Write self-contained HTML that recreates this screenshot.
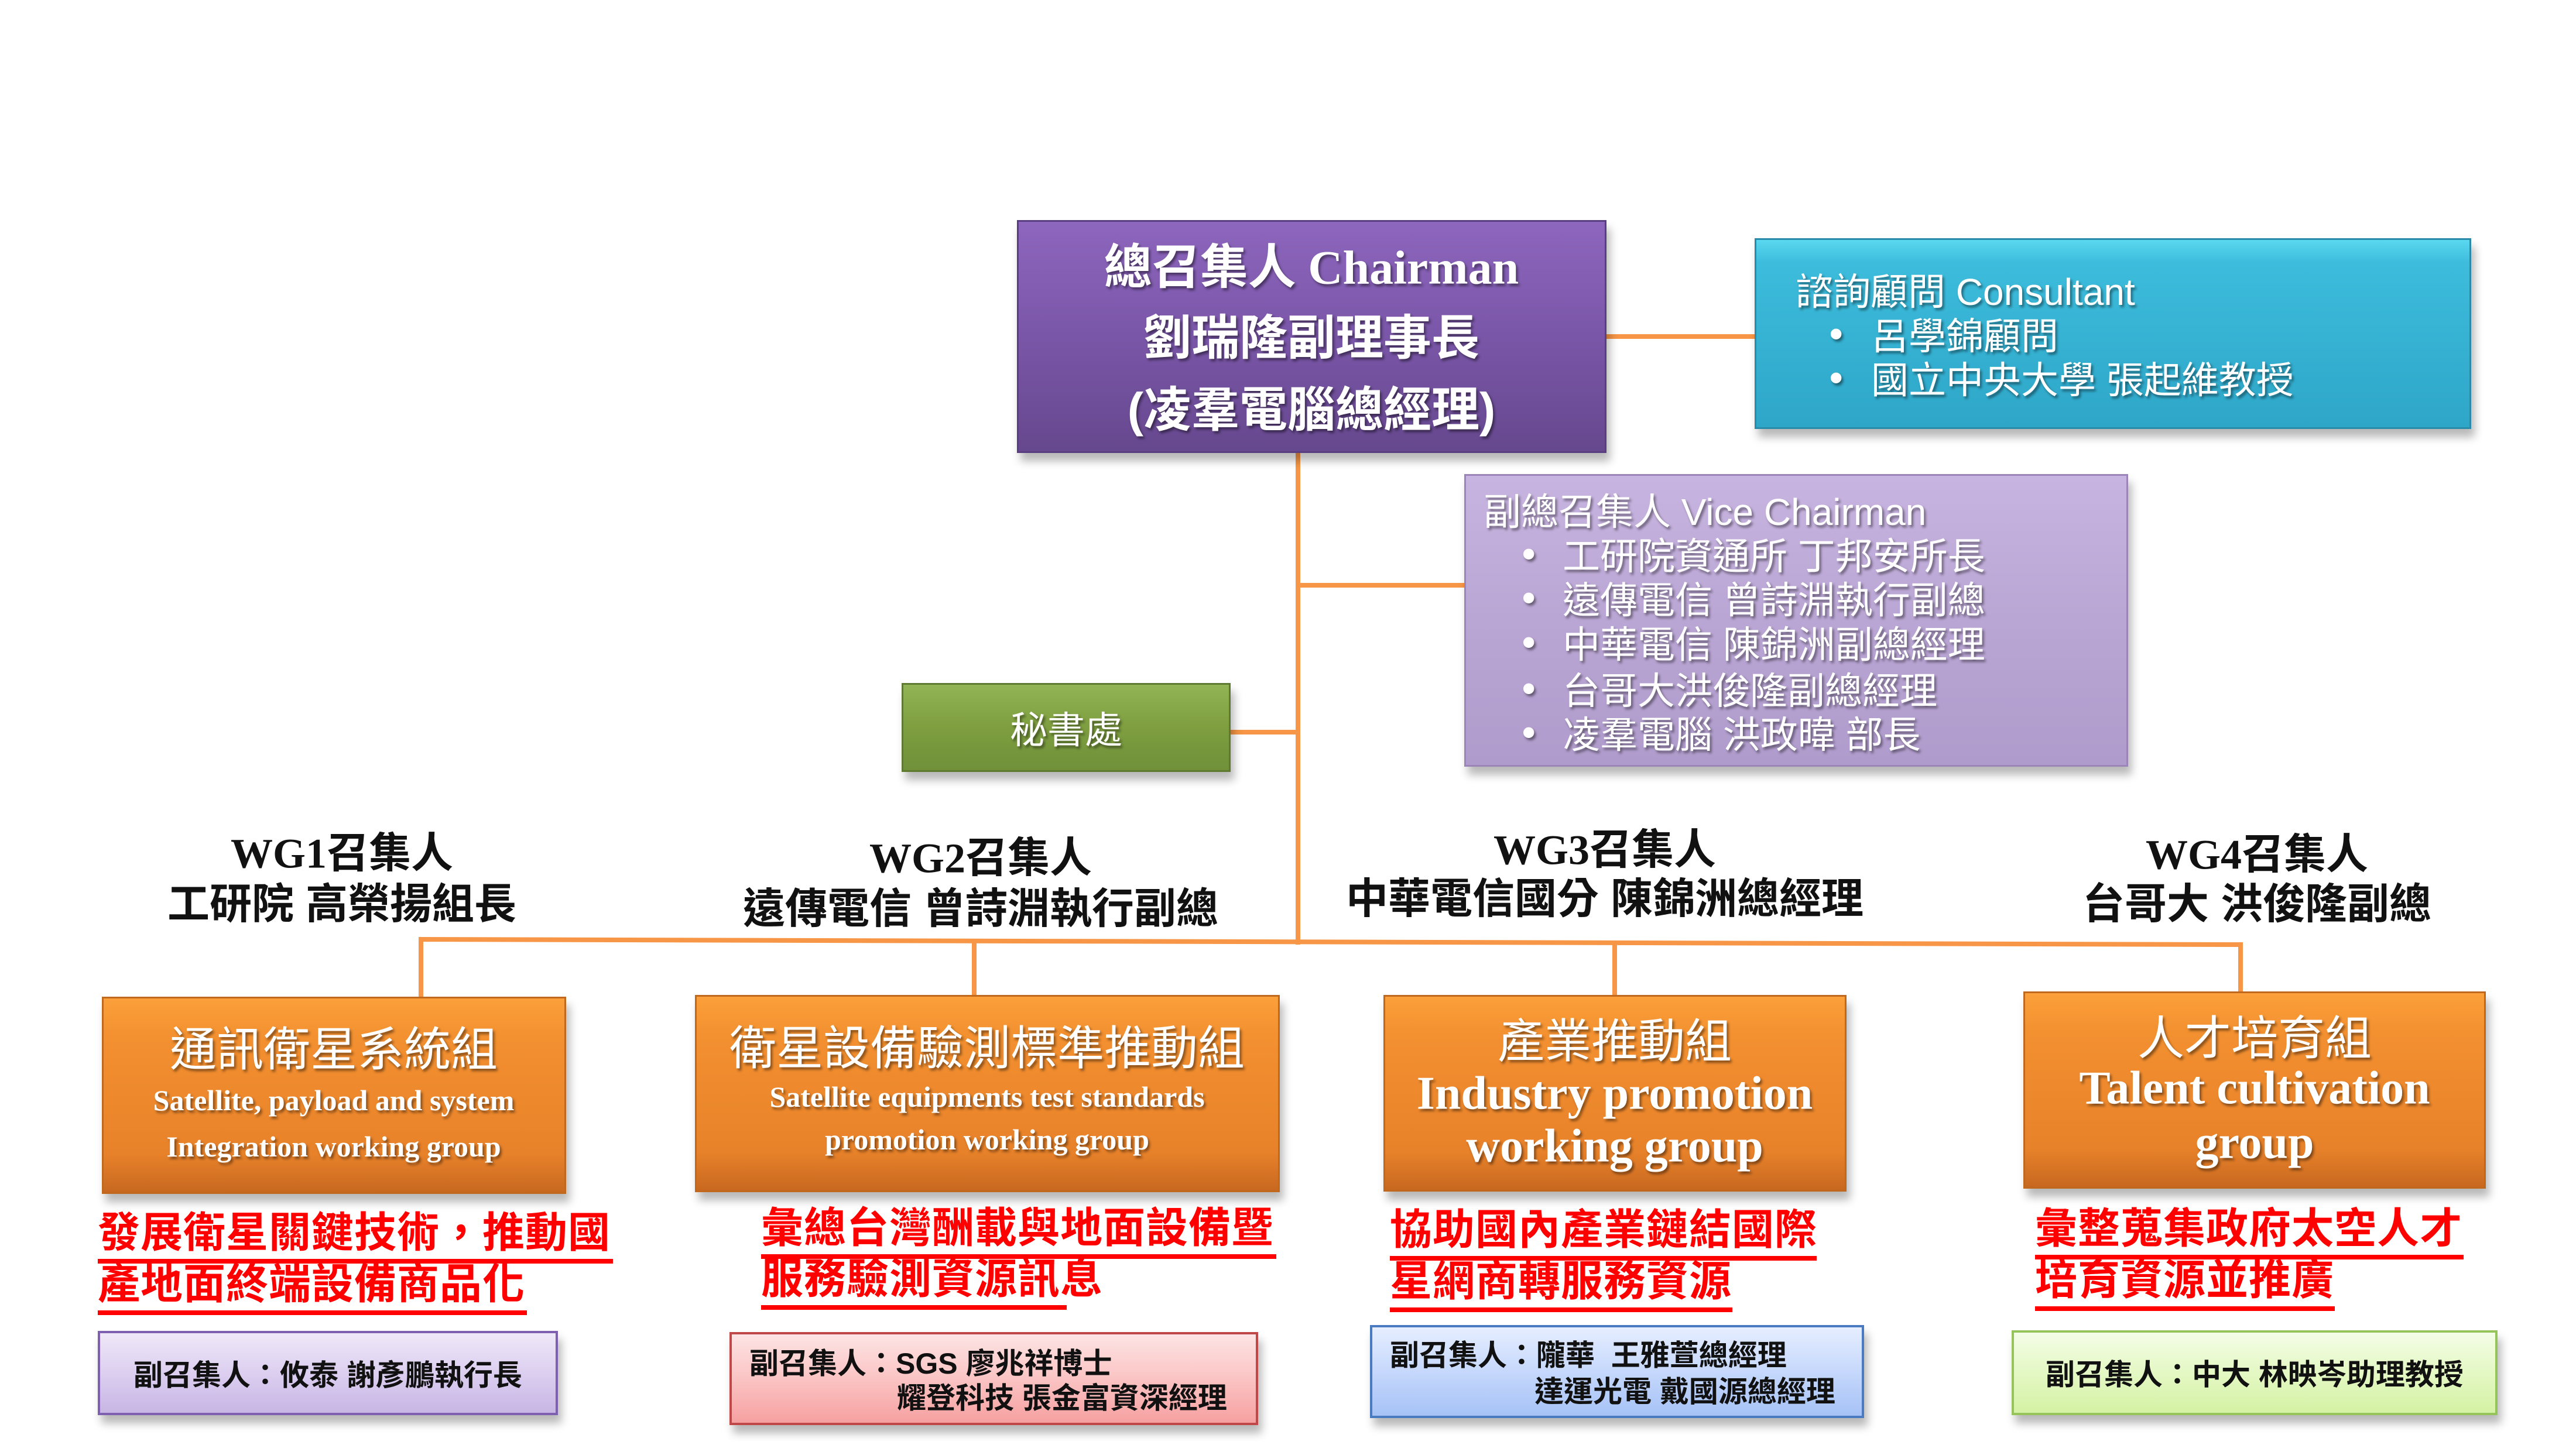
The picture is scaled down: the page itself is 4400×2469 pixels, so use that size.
<!DOCTYPE html>
<html><head><meta charset="utf-8">
<style>
*{margin:0;padding:0;box-sizing:border-box}
body{width:4400px;height:2469px;background:#fff;position:relative;overflow:hidden;font-family:"Liberation Sans","Noto Sans CJK TC",sans-serif}
.a{position:absolute}
.box{position:absolute;box-shadow:6px 14px 14px rgba(0,0,0,0.28)}
.wt{color:#fff;text-shadow:3px 4px 4px rgba(0,0,0,0.45);font-weight:bold}
.ln{position:absolute;background:#f79646}
.c{position:absolute;text-align:center;white-space:nowrap;transform:translate(-50%,-50%)}
.l{position:absolute;white-space:nowrap;transform:translateY(-50%)}
.red{position:absolute;color:#f00;font-weight:bold;font-size:72px;white-space:nowrap;line-height:88px;border-bottom:8px solid #f00;letter-spacing:1px}
.wg{font-family:"Liberation Serif","Noto Sans CJK TC",serif;font-weight:bold;font-size:72px;color:#111}
.orange{background:linear-gradient(#fba03a,#f39030 20%,#e8822a 80%,#c86820);border:3px solid #c0681e}
.eng{font-family:"Liberation Serif",serif;font-weight:bold}
.vc{font-size:50px;color:#111;font-weight:bold}
</style></head><body>

<div class="ln" style="left:2744px;top:571px;width:254px;height:8px"></div>
<div class="ln" style="left:2213px;top:774px;width:8px;height:840px"></div>
<div class="ln" style="left:2217px;top:996px;width:285px;height:8px"></div>
<div class="ln" style="left:2102px;top:1247px;width:115px;height:8px"></div>
<svg class="a" style="left:0;top:0" width="4400" height="2469">
<polyline points="719,1703 719,1605 3827,1614 3827,1694" fill="none" stroke="#f79646" stroke-width="8"/>
<line x1="1664" y1="1608" x2="1664" y2="1700" stroke="#f79646" stroke-width="8"/>
<line x1="2758" y1="1611" x2="2758" y2="1700" stroke="#f79646" stroke-width="8"/>
</svg>

<div class="box" style="left:1737px;top:376px;width:1007px;height:398px;background:linear-gradient(#8d66bd,#7a56a8 50%,#66488e);border:3px solid #5a3f80"></div>
<div class="c wt" style="left:2240px;top:449px;font-size:82px;font-family:'Liberation Serif','Noto Sans CJK TC',serif">總召集人 Chairman</div>
<div class="c wt" style="left:2240px;top:570px;font-size:82px">劉瑞隆副理事長</div>
<div class="c wt" style="left:2240px;top:693px;font-size:82px">(凌羣電腦總經理)</div>

<div class="box" style="left:2997px;top:407px;width:1224px;height:326px;background:linear-gradient(#5ad8f0,#3dbcdc 12%,#2ea6c8);border:3px solid #2a8aaa"></div>
<div class="l wt" style="left:3067px;top:494px;font-size:64px;font-weight:normal">諮詢顧問 Consultant</div>
<div class="l wt" style="left:3125px;top:570px;font-size:64px">•</div>
<div class="l wt" style="left:3196px;top:570px;font-size:64px;font-weight:normal">呂學錦顧問</div>
<div class="l wt" style="left:3125px;top:645px;font-size:64px">•</div>
<div class="l wt" style="left:3196px;top:645px;font-size:64px;font-weight:normal">國立中央大學 張起維教授</div>

<div class="box" style="left:2501px;top:810px;width:1134px;height:500px;background:linear-gradient(#c8b4e0,#baa6d4 50%,#b09ccc);border:3px solid #9a84b8"></div>
<div class="l wt" style="left:2534px;top:870px;font-size:64px;font-weight:normal">副總召集人 Vice Chairman</div>
<div class="l wt" style="left:2600px;top:946px;font-size:64px">•</div><div class="l wt" style="left:2669px;top:946px;font-size:64px;font-weight:normal">工研院資通所 丁邦安所長</div>
<div class="l wt" style="left:2600px;top:1021px;font-size:64px">•</div><div class="l wt" style="left:2669px;top:1021px;font-size:64px;font-weight:normal">遠傳電信 曾詩淵執行副總</div>
<div class="l wt" style="left:2600px;top:1097px;font-size:64px">•</div><div class="l wt" style="left:2669px;top:1097px;font-size:64px;font-weight:normal">中華電信 陳錦洲副總經理</div>
<div class="l wt" style="left:2600px;top:1176px;font-size:64px">•</div><div class="l wt" style="left:2669px;top:1176px;font-size:64px;font-weight:normal">台哥大洪俊隆副總經理</div>
<div class="l wt" style="left:2600px;top:1251px;font-size:64px">•</div><div class="l wt" style="left:2669px;top:1251px;font-size:64px;font-weight:normal">凌羣電腦 洪政暐 部長</div>

<div class="box" style="left:1540px;top:1167px;width:562px;height:152px;background:linear-gradient(#92b454,#7e9e40 50%,#70903a);border:3px solid #5e7a30"></div>
<div class="c wt" style="left:1821px;top:1243px;font-size:64px;font-weight:normal">秘書處</div>

<div class="c wg" style="left:584px;top:1451px">WG1召集人</div>
<div class="c wg" style="left:584px;top:1538px;font-family:'Liberation Sans','Noto Sans CJK TC',sans-serif">工研院 高榮揚組長</div>
<div class="c wg" style="left:1675px;top:1459px">WG2召集人</div>
<div class="c wg" style="left:1675px;top:1546px;font-family:'Liberation Sans','Noto Sans CJK TC',sans-serif">遠傳電信 曾詩淵執行副總</div>
<div class="c wg" style="left:2741px;top:1445px">WG3召集人</div>
<div class="c wg" style="left:2741px;top:1529px;font-family:'Liberation Sans','Noto Sans CJK TC',sans-serif">中華電信國分 陳錦洲總經理</div>
<div class="c wg" style="left:3855px;top:1453px">WG4召集人</div>
<div class="c wg" style="left:3855px;top:1538px;font-family:'Liberation Sans','Noto Sans CJK TC',sans-serif">台哥大 洪俊隆副總</div>

<div class="box orange" style="left:174px;top:1703px;width:793px;height:337px"></div>
<div class="c wt" style="left:570px;top:1787px;font-size:80px;font-weight:normal">通訊衛星系統組</div>
<div class="c wt eng" style="left:570px;top:1880px;font-size:50px">Satellite, payload and system</div>
<div class="c wt eng" style="left:570px;top:1959px;font-size:50px">Integration working group</div>

<div class="box orange" style="left:1187px;top:1700px;width:999px;height:337px"></div>
<div class="c wt" style="left:1686px;top:1785px;font-size:80px;font-weight:normal">衛星設備驗測標準推動組</div>
<div class="c wt eng" style="left:1686px;top:1874px;font-size:50px">Satellite equipments test standards</div>
<div class="c wt eng" style="left:1686px;top:1947px;font-size:50px">promotion working group</div>

<div class="box orange" style="left:2363px;top:1700px;width:791px;height:336px"></div>
<div class="c wt" style="left:2758px;top:1773px;font-size:80px;font-weight:normal">產業推動組</div>
<div class="c wt eng" style="left:2758px;top:1869px;font-size:80px">Industry promotion</div>
<div class="c wt eng" style="left:2758px;top:1959px;font-size:80px">working group</div>

<div class="box orange" style="left:3456px;top:1694px;width:790px;height:337px"></div>
<div class="c wt" style="left:3851px;top:1768px;font-size:80px;font-weight:normal">人才培育組</div>
<div class="c wt eng" style="left:3851px;top:1860px;font-size:80px">Talent cultivation</div>
<div class="c wt eng" style="left:3851px;top:1953px;font-size:80px">group</div>

<div class="red" style="left:167px;top:2063px;width:880px">發展衛星關鍵技術，推動國</div>
<div class="red" style="left:167px;top:2151px;width:733px">產地面終端設備商品化</div>
<div class="red" style="left:1300px;top:2055px;width:880px">彙總台灣酬載與地面設備暨</div>
<div class="red" style="left:1300px;top:2142px;width:522px">服務驗測資源訊息</div>
<div class="red" style="left:2374px;top:2058px;width:729px">協助國內產業鏈結國際</div>
<div class="red" style="left:2374px;top:2146px;width:585px">星網商轉服務資源</div>
<div class="red" style="left:3476px;top:2056px;width:732px">彙整蒐集政府太空人才</div>
<div class="red" style="left:3476px;top:2144px;width:512px">培育資源並推廣</div>

<div class="box" style="left:167px;top:2274px;width:786px;height:144px;background:linear-gradient(#efe8f8,#d8caee 60%,#c8b6e4);border:4px solid #7f60b0"></div>
<div class="l vc" style="left:228px;top:2346px">副召集人：攸泰 謝彥鵬執行長</div>

<div class="box" style="left:1246px;top:2276px;width:903px;height:159px;background:linear-gradient(#fde4e4,#fbc4c4 50%,#f6a0a0);border:4px solid #c04848"></div>
<div class="l vc" style="left:1280px;top:2326px">副召集人：SGS 廖兆祥博士</div>
<div class="l vc" style="left:1532px;top:2385px">耀登科技 張金富資深經理</div>

<div class="box" style="left:2340px;top:2264px;width:844px;height:159px;background:linear-gradient(#e6eeff,#c6d8fc 50%,#a6c2f6);border:4px solid #4a7ac0"></div>
<div class="l vc" style="left:2374px;top:2312px">副召集人：隴華&nbsp; 王雅萱總經理</div>
<div class="l vc" style="left:2621px;top:2374px">達運光電 戴國源總經理</div>

<div class="box" style="left:3436px;top:2273px;width:830px;height:145px;background:linear-gradient(#f4fde6,#e4f8c4 50%,#d4f2a4);border:4px solid #94c45a"></div>
<div class="l vc" style="left:3494px;top:2345px">副召集人：中大 林映岑助理教授</div>

</body></html>
